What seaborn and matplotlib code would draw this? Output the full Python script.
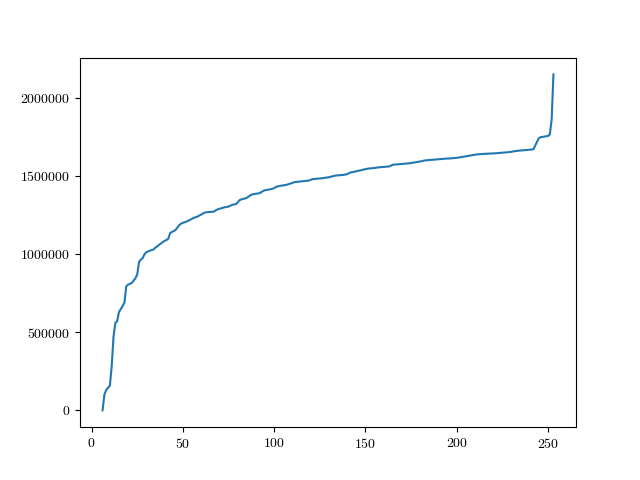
import numpy as np
import pandas as pd
import matplotlib
matplotlib.use("Agg")
import matplotlib.pyplot as plt
import seaborn as sns

plt.rcParams['font.family'] = ['cmr10', 'DejaVu Serif']
plt.rcParams['axes.formatter.use_mathtext'] = True

start_x = 6
values = [
    0, 100000, 130000, 145000, 158000, 280000, 470000, 560000, 570000, 630000,
    648000, 668000, 690000, 795000, 805000, 810000, 815000, 830000, 845000, 870000,
    950000, 965000, 975000, 1000000, 1012000, 1018000, 1022000, 1026000, 1030000, 1042000,
    1050000, 1060000, 1068000, 1077000, 1085000, 1090000, 1098000, 1135000, 1142000, 1147000,
    1155000, 1170000, 1185000, 1195000, 1200000, 1204000, 1208000, 1214000, 1220000, 1226000,
    1232000, 1236000, 1240000, 1247000, 1253000, 1260000, 1266000, 1268000, 1269000, 1270000,
    1271000, 1272000, 1280000, 1286000, 1290000, 1293000, 1297000, 1300000, 1302000, 1304000,
    1310000, 1315000, 1318000, 1320000, 1330000, 1345000, 1350000, 1353000, 1356000, 1360000,
    1368000, 1377000, 1382000, 1384000, 1386000, 1388000, 1390000, 1397000, 1404000, 1409000,
    1411000, 1413000, 1415000, 1418000, 1422000, 1430000, 1433000, 1436000, 1438000, 1440000,
    1442000, 1444000, 1448000, 1452000, 1456000, 1460000, 1462000, 1463000, 1464000, 1466000,
    1467000, 1468000, 1469000, 1471000, 1476000, 1479000, 1481000, 1482000, 1483000, 1484000,
    1485000, 1487000, 1489000, 1490000, 1492000, 1495000, 1498000, 1501000, 1503000, 1504000,
    1505000, 1506000, 1507000, 1509000, 1512000, 1518000, 1523000, 1525000, 1527000, 1530000,
    1533000, 1535000, 1538000, 1541000, 1544000, 1546000, 1548000, 1549000, 1550000, 1551000,
    1553000, 1555000, 1556000, 1557000, 1558000, 1559000, 1560000, 1561000, 1566000, 1572000,
    1573000, 1574000, 1575000, 1576000, 1577000, 1578000, 1579000, 1580000, 1581000, 1583000,
    1585000, 1587000, 1589000, 1591000, 1593000, 1595000, 1598000, 1600000, 1601000, 1602000,
    1603000, 1604000, 1605000, 1606000, 1607000, 1608000, 1609000, 1610000, 1611000, 1612000,
    1612000, 1613000, 1614000, 1615000, 1616000, 1618000, 1620000, 1622000, 1624000, 1626000,
    1628000, 1630000, 1632000, 1634000, 1636000, 1638000, 1639000, 1640000, 1641000, 1641500,
    1642000, 1642500, 1643000, 1643500, 1644000, 1645000, 1646000, 1647000, 1648000, 1649000,
    1650000, 1651000, 1652000, 1653000, 1655000, 1657000, 1659000, 1661000, 1662000, 1663000,
    1664000, 1665000, 1666000, 1667000, 1668000, 1669000, 1671000, 1695000, 1720000, 1742000,
    1748000, 1750000, 1752000, 1754000, 1756000, 1765000, 1860000, 2150000,
]
x_vals = list(range(start_x, start_x + len(values)))

df = pd.DataFrame({"x": x_vals, "y": values})

fig, ax = plt.subplots(figsize=(6.4, 4.8), dpi=100)
sns.lineplot(data=df, x="x", y="y", color="#1f77b4", linewidth=1.5, ax=ax)
ax.set_xlabel("")
ax.set_ylabel("")
ax.ticklabel_format(style='plain', axis='y', useOffset=False)
ax.set_xticks([0, 50, 100, 150, 200, 250])
fig.savefig("out.png", dpi=100)
